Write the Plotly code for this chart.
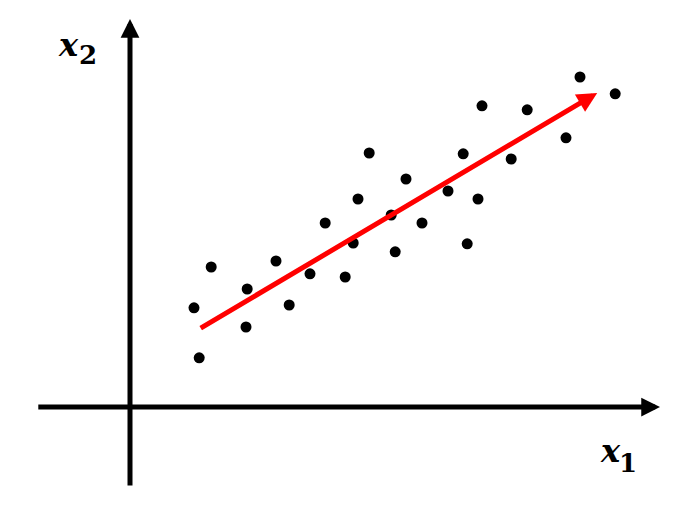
import plotly.graph_objects as go

# scatter data (units: axis crossing at origin)
x_vals = [1.60, 1.73, 2.03, 2.93, 2.90, 3.65, 3.98, 4.50, 4.88, 5.38, 5.58, 5.70, 5.98,
          6.53, 6.63, 6.90, 7.30, 7.95, 8.33, 8.43, 8.70, 8.80, 9.53, 9.93, 10.90, 11.25, 12.13]
y_vals = [2.48, 1.23, 3.50, 2.95, 2.00, 3.65, 2.55, 3.33, 4.60, 3.25, 4.10, 5.20, 6.35,
          4.80, 3.88, 5.70, 4.60, 5.40, 6.33, 4.08, 5.20, 7.53, 6.20, 7.43, 6.73, 8.25, 7.83]

# trend arrow (start, end)
trend_x = [1.73, 11.68]
trend_y = [1.95, 7.85]

# coordinate axes extents
axis1_x = [-2.33, 13.25]
axis2_y = [-2.0, 9.7]

# visible ranges (page has 8px body margin, figure is 674x500)
x_range = [-3.05, 13.8]
y_range = [-2.525, 9.975]

fig = go.Figure()
fig.add_trace(go.Scatter(x=x_vals, y=y_vals, mode="markers",
                         marker=dict(color="black", size=11), hoverinfo="skip"))

def arrow(x0, y0, x1, y1, color, width, size):
    fig.add_annotation(x=x1, y=y1, ax=x0, ay=y0, xref="x", yref="y", axref="x", ayref="y",
                       text="", showarrow=True, arrowhead=2, arrowsize=size,
                       arrowwidth=width, arrowcolor=color, standoff=0, startstandoff=0)

arrow(axis1_x[0], 0, axis1_x[1], 0, "black", 5, 0.75)
arrow(0, axis2_y[0], 0, axis2_y[1], "black", 5, 0.75)
arrow(trend_x[0], trend_y[0], trend_x[1], trend_y[1], "red", 5, 0.8)

x_font = dict(family="DejaVu Serif", size=32, color="black", weight="bold", style="italic")
d_font = dict(family="DejaVu Serif", size=26, color="black", weight="bold")

def label(xx, yx, xd, yd, digit):
    fig.add_annotation(x=xx, y=yx, xref="x", yref="y", text="x", showarrow=False,
                       font=x_font, xanchor="center", yanchor="middle")
    fig.add_annotation(x=xd, y=yd, xref="x", yref="y", text=digit, showarrow=False,
                       font=d_font, xanchor="center", yanchor="middle")

label(12.0, -1.10, 12.45, -1.40, "1")
label(-1.55, 9.04, -1.04, 8.80, "2")

fig.update_layout(
    width=674, height=500, margin=dict(l=0, r=0, t=0, b=0),
    paper_bgcolor="white", plot_bgcolor="white", showlegend=False,
    xaxis=dict(range=x_range, visible=False, fixedrange=True),
    yaxis=dict(range=y_range, visible=False, fixedrange=True),
)
fig.write_html("out.html")
